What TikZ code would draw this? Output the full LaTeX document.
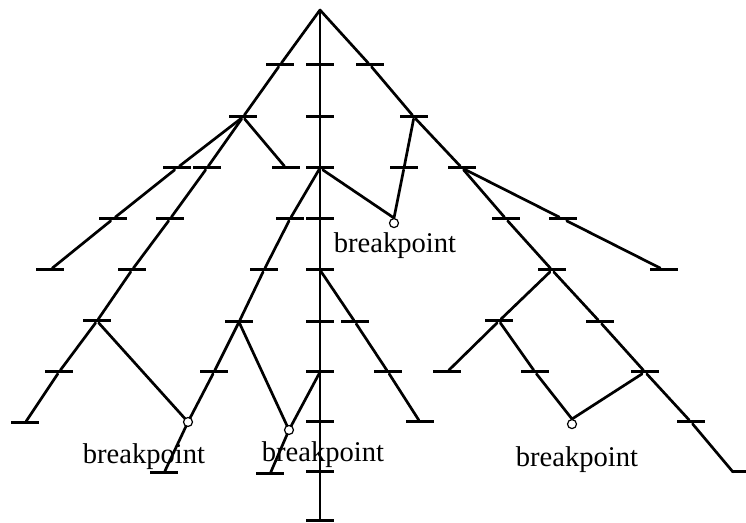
\documentclass[tikz,border=0pt]{standalone}
\usepackage{fontspec}
\setmainfont{Liberation Serif}
\usepackage{tikz}

\begin{document}
\begin{tikzpicture}[x=0.5pt, y=-0.5pt,
    notch/.style={fill=black, inner sep=0pt, minimum width=14pt, minimum height=1.5pt},
    branch/.style={line width=1.35pt, line cap=round, line join=round},
    bpoint/.style={draw, circle, fill=white, inner sep=0pt, minimum size=4.5pt, line width=0.6pt},
    lbl/.style={inner sep=0pt, font=\fontsize{14.3}{17}\selectfont}]
    \useasboundingbox (0,0) rectangle (746,523);

    % Trunk
    \coordinate (T0) at (320,10);
    \node[notch] (T1) at (320,65) {};
    \node[notch] (T2) at (320,117) {};
    \node[notch] (T3) at (320,168) {};
    \node[notch] (T4) at (320,219) {};
    \node[notch] (T5) at (320,270) {};
    \node[notch] (T6) at (320,322) {};
    \node[notch] (T7) at (320,372) {};
    \node[notch] (T8) at (320,422) {};
    \node[notch] (T9) at (320,472) {};
    \node[notch] (T10) at (320,521) {};

    % Left branch
    \node[notch] (A1) at (280,65) {};
    \node[notch] (A2) at (243,117) {};
    \node[notch] (A3) at (286,168) {};
    \node[notch] (L3) at (177,168) {};
    \node[notch] (L4) at (113,219) {};
    \node[notch] (L5) at (50,270) {};
    \node[notch] (M3) at (207,168) {};
    \node[notch] (M4) at (170,219) {};
    \node[notch] (M5) at (132,270) {};
    \node[notch] (M6) at (97,321) {};
    \node[notch] (M7) at (59,372) {};
    \node[notch] (M8) at (25,423) {};
    \coordinate (P1) at (188,422);
    \node[notch] (P2) at (164,473) {};

    % Branch off trunk
    \node[notch] (N4) at (290,219) {};
    \node[notch] (N5) at (264,270) {};
    \node[notch] (N6) at (239,322) {};
    \node[notch] (N7) at (214,372) {};
    \coordinate (P3) at (289,430);
    \node[notch] (N9) at (270,474) {};
    \coordinate (P4) at (394,218);
    \node[notch] (C3) at (404,168) {};
    \node[notch] (S6) at (355,322) {};
    \node[notch] (S7) at (388,372) {};
    \node[notch] (S8) at (420,422) {};

    % Right branch
    \node[notch] (B1) at (370,65) {};
    \node[notch] (B2) at (414,117) {};
    \node[notch] (B3) at (462,168) {};
    \node[notch] (B4) at (506,219) {};
    \node[notch] (B5) at (552,270) {};
    \node[notch] (B6) at (600,322) {};
    \node[notch] (B7) at (645,372) {};
    \node[notch] (B8) at (691,422) {};
    \node[notch, anchor=west] (B9) at (733,472) {};
    \node[notch] (D4) at (563,219) {};
    \node[notch] (D5) at (664,270) {};
    \node[notch] (E6) at (499,321) {};
    \node[notch] (E7) at (447,372) {};
    \node[notch] (F7) at (535,372) {};
    \coordinate (P5) at (572,419);

    % Lines
    \draw[branch] (T0) -- (T10);
    \draw[branch] (T0) -- (A1) -- (A2);
    \draw[branch] (A2) -- (A3);
    \draw[branch] (A2) -- (L3) -- (L4) -- (L5);
    \draw[branch] (A2) -- (M3) -- (M4) -- (M5) -- (M6);
    \draw[branch] (M6) -- (M7) -- (M8);
    \draw[branch] (M6) -- (P1);
    \draw[branch] (T3) -- (N4) -- (N5) -- (N6) -- (N7) -- (P1) -- (P2);
    \draw[branch] (N6) -- (P3) -- (N9);
    \draw[branch] (P3) -- (T7);
    \draw[branch] (T3) -- (P4) -- (C3) -- (B2);
    \draw[branch] (T5) -- (S6) -- (S7) -- (S8);
    \draw[branch] (T0) -- (B1) -- (B2) -- (B3) -- (B4) -- (B5) -- (B6) -- (B7) -- (B8) -- (B9.west);
    \draw[branch] (B3) -- (D4) -- (D5);
    \draw[branch] (B5) -- (E6) -- (E7);
    \draw[branch] (E6) -- (F7) -- (P5) -- (B7);

    % Breakpoints
    \node[bpoint] (P1c) at (P1) {};
    \node[bpoint] (P3c) at (P3) {};
    \node[bpoint, anchor=north] (P4c) at (P4) {};
    \node[bpoint, anchor=north] (P5c) at (P5) {};
    \node[lbl] (txt1) at (395,246) {breakpoint};
    \node[lbl] (txt2) at (144,457) {breakpoint};
    \node[lbl] (txt3) at (323,455) {breakpoint};
    \node[lbl] (txt4) at (577,460) {breakpoint};
\end{tikzpicture}
\end{document}
